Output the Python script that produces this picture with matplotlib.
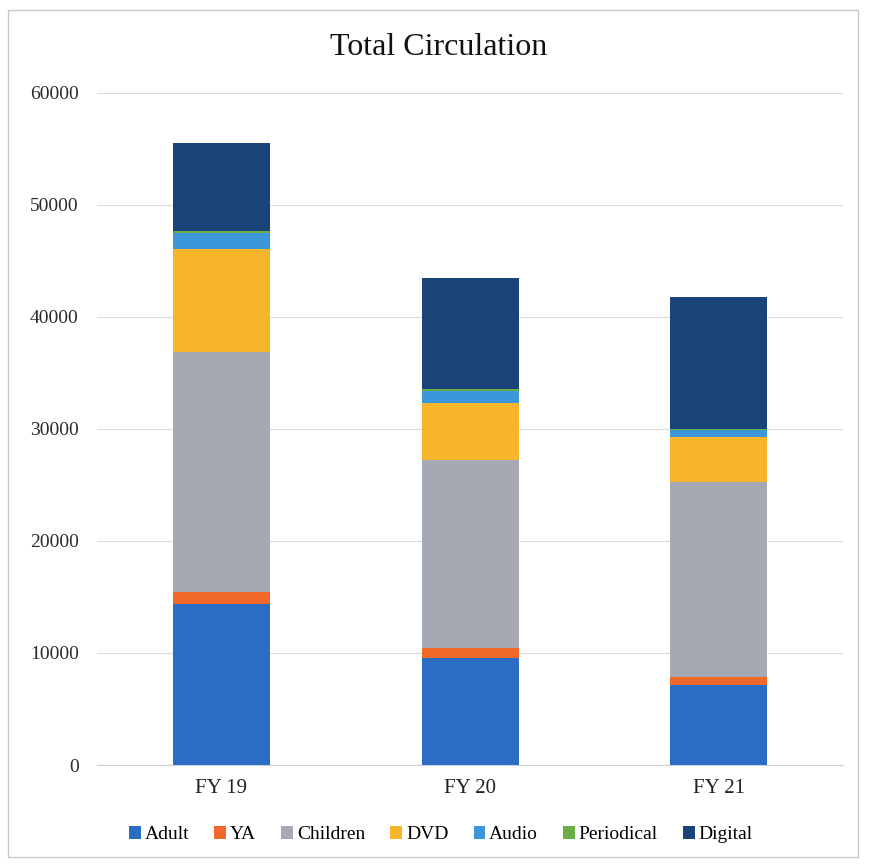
import matplotlib
matplotlib.use("Agg")
import matplotlib.pyplot as plt
from matplotlib.patches import Rectangle
import numpy as np

categories = ["FY 19", "FY 20", "FY 21"]
series_names = ["Adult", "YA", "Children", "DVD", "Audio", "Periodical", "Digital"]
adult = [14400, 9550, 7150]
ya = [1000, 900, 700]
children = [21500, 16750, 17400]
dvd = [9200, 5100, 4050]
audio = [1400, 1100, 650]
periodical = [150, 170, 50]
digital = [7900, 9900, 11800]
yticks = [0, 10000, 20000, 30000, 40000, 50000, 60000]

colors = ["#2B6CC4", "#F0692B", "#A6A8B4", "#F6B52A", "#3A98DA", "#6BAE45", "#1A4478"]

plt.rcParams['font.family'] = ['Liberation Serif', 'DejaVu Serif']

fig = plt.figure(figsize=(8.73, 8.65), dpi=100)
ax = fig.add_axes([0.111, 0.1156, 0.855, 0.777])

x = np.arange(len(categories))
bottom = np.zeros(len(categories))
for name, vals, c in zip(series_names, [adult, ya, children, dvd, audio, periodical, digital], colors):
    ax.bar(x, vals, bottom=bottom, width=0.39, color=c, label=name, zorder=3)
    bottom += np.array(vals)

ax.set_xlim(-0.5, 2.5)
ax.set_ylim(0, 60000)
ax.set_yticks(yticks)
ax.set_yticklabels([str(v) for v in yticks], fontsize=14, color="#2a2a2a")
ax.set_xticks(x)
ax.set_xticklabels(categories, fontsize=15, color="#222222")
ax.tick_params(length=0)
ax.tick_params(axis='x', pad=10)
ax.tick_params(axis='y', pad=13)
ax.grid(axis='y', color="#D9D9D9", linewidth=0.8, zorder=0)
for s in ["top", "right", "left"]:
    ax.spines[s].set_visible(False)
ax.spines["bottom"].set_color("#D0D0D0")

fig.text(0.503, 0.945, "Total Circulation", ha="center", va="center", fontsize=23, color="#111111")

leg = fig.legend(loc="center", bbox_to_anchor=(0.505, 0.035), ncol=7, frameon=False,
                 fontsize=14, handlelength=0.6, handleheight=0.6, handletextpad=0.2,
                 columnspacing=1.3)

fig.patches.append(Rectangle((0.009, 0.009), 0.974, 0.98, transform=fig.transFigure,
                             fill=False, edgecolor="#C8C8C8", linewidth=1))

fig.savefig("out.png", dpi=100)
